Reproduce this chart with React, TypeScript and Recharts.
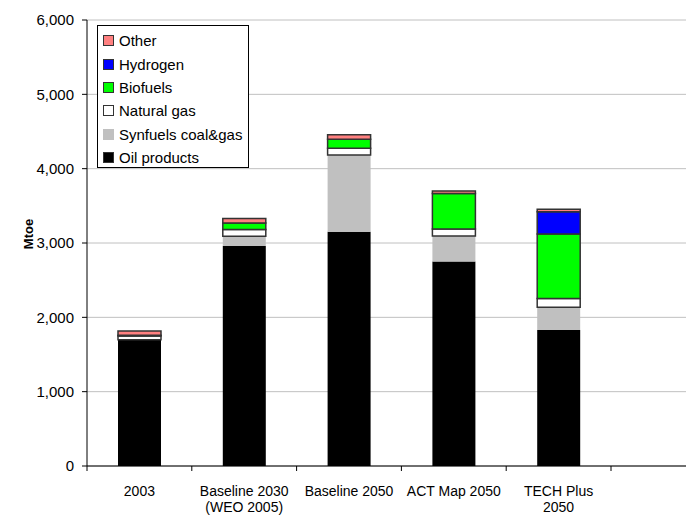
import React from "react";
import {
  BarChart,
  Bar,
  XAxis,
  YAxis,
  CartesianGrid,
} from "recharts";

// scenario categories and their (possibly two-line) axis labels
const CATEGORIES = ["2003", "Baseline 2030", "Baseline 2050", "ACT Map 2050", "TECH Plus 2050"];
const CATEGORY_LABELS = [
  ["2003"],
  ["Baseline 2030", "(WEO 2005)"],
  ["Baseline 2050"],
  ["ACT Map 2050"],
  ["TECH Plus", "2050"],
];

// Mtoe per fuel
const OIL_PRODUCTS = [1700, 2960, 3150, 2750, 1830];
const SYNFUELS = [0, 130, 1035, 345, 305];
const NATURAL_GAS = [50, 90, 90, 95, 120];
const BIOFUELS = [10, 90, 120, 475, 865];
const HYDROGEN = [0, 0, 0, 0, 300];
const OTHER = [55, 60, 60, 35, 35];

const Y_TICKS = [0, 1000, 2000, 3000, 4000, 5000, 6000];

// stacking order bottom -> top
const SERIES = [
  { key: "oil", name: "Oil products", values: OIL_PRODUCTS, fill: "#000000", stroke: "none" },
  { key: "syn", name: "Synfuels coal&gas", values: SYNFUELS, fill: "#C0C0C0", stroke: "none" },
  { key: "gas", name: "Natural gas", values: NATURAL_GAS, fill: "#FFFFFF", stroke: "#333333" },
  { key: "bio", name: "Biofuels", values: BIOFUELS, fill: "#00FF00", stroke: "#333333" },
  { key: "hyd", name: "Hydrogen", values: HYDROGEN, fill: "#0000FF", stroke: "#333333" },
  { key: "other", name: "Other", values: OTHER, fill: "#FF8080", stroke: "#333333" },
];

const chartData = CATEGORIES.map((cat, i) => {
  const row: Record<string, any> = { category: cat, idx: i };
  for (const s of SERIES) row[s.key] = s.values[i];
  return row;
});

const FONT = "'Liberation Sans', Arial, Helvetica, sans-serif";
const BAND = (686 - 87 - 75) / CATEGORIES.length;

function CategoryTick(props: any) {
  const { x, y, payload, index } = props;
  const lines = CATEGORY_LABELS[index] || [String(payload.value)];
  const half = BAND / 2;
  const axisY = y - 7;
  return (
    <g>
      <line x1={x - half} x2={x - half} y1={axisY} y2={axisY + 5} stroke="#000" />
      {index === CATEGORIES.length - 1 && (
        <line x1={x + half} x2={x + half} y1={axisY} y2={axisY + 5} stroke="#000" />
      )}
      <text x={x} y={y} textAnchor="middle" fontSize={14} fontFamily={FONT} fill="#000">
        {lines.map((l, i) => (
          <tspan key={i} x={x} dy={i === 0 ? 23 : 16}>
            {l}
          </tspan>
        ))}
      </text>
    </g>
  );
}

function LegendBox() {
  // legend lists the series top of stack first
  const items = [...SERIES].reverse();
  return (
    <div
      style={{
        position: "absolute",
        left: 97,
        top: 25,
        border: "1px solid #000",
        background: "#fff",
        width: 152,
        height: 143,
        paddingTop: 3,
        boxSizing: "border-box",
        fontFamily: FONT,
        fontSize: 15,
        color: "#000",
      }}
    >
      {items.map((s) => (
        <div key={s.key} style={{ height: 23.4, display: "flex", alignItems: "center", paddingLeft: 5 }}>
          <span
            style={{
              display: "inline-block",
              width: 9,
              height: 9,
              background: s.fill,
              border: s.key === "syn" ? "1px solid #C0C0C0" : "1px solid #333",
              marginRight: 5,
            }}
          />
          <span style={{ whiteSpace: "nowrap" }}>{s.name}</span>
        </div>
      ))}
    </div>
  );
}

export default function App() {
  return (
    <div style={{ position: "absolute", left: 0, top: 0, width: 686, height: 515, background: "#fff" }}>
      <BarChart
        width={686}
        height={515}
        data={chartData}
        margin={{ top: 20, right: 0, bottom: 0, left: 0 }}
        barSize={43}
      >
        <CartesianGrid vertical={false} stroke="#C0C0C0" />
        <XAxis
          dataKey="category"
          height={49}
          interval={0}
          padding={{ left: 0, right: 75 }}
          axisLine={{ stroke: "#000" }}
          tickLine={false}
          tickSize={5}
          tickMargin={2}
          tick={<CategoryTick />}
        />
        <YAxis
          width={87}
          domain={[0, 6000]}
          ticks={Y_TICKS}
          interval={0}
          axisLine={{ stroke: "#000" }}
          tickLine={{ stroke: "#000" }}
          tickSize={5}
          tickMargin={8}
          tick={{ fontSize: 15, fontFamily: FONT, fill: "#000" }}
          tickFormatter={(v: number) => v.toLocaleString("en-US")}
          label={{
            content: () => (
              <text
                x={0}
                y={0}
                transform="translate(33, 234) rotate(-90)"
                textAnchor="middle"
                fontSize={13}
                fontWeight="bold"
                fontFamily={FONT}
                fill="#000"
              >
                Mtoe
              </text>
            ),
          }}
        />
        {SERIES.map((s) => (
          <Bar
            key={s.key}
            dataKey={s.key}
            name={s.name}
            stackId="fuel"
            fill={s.fill}
            stroke={s.stroke}
            strokeWidth={1.5}
            isAnimationActive={false}
          />
        ))}
      </BarChart>
      <LegendBox />
    </div>
  );
}
